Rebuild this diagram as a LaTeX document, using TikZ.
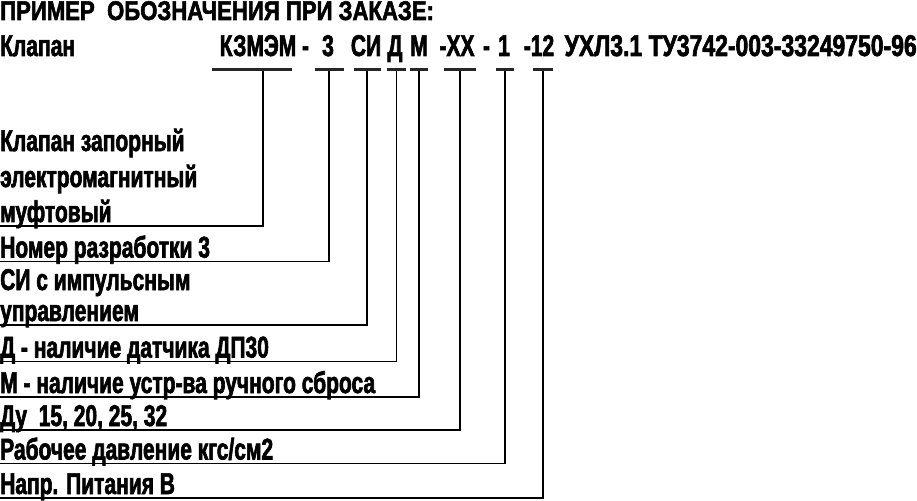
\documentclass[tikz,border=0pt]{standalone}
\usepackage{fontspec}
\setmainfont{Liberation Sans}[FakeStretch=0.7, FakeBold=2]
\newfontfamily\headfont{Liberation Sans}[FakeStretch=0.82, FakeBold=2]
\newfontfamily\specfont{Liberation Sans}[FakeStretch=0.765, FakeBold=2]
\begin{document}
\begin{tikzpicture}[x=1pt, y=-1pt,
    every node/.style={inner sep=0pt, anchor=base west},
    title/.style={font=\headfont\bfseries\fontsize{27}{27}\selectfont},
    code/.style={font=\bfseries\fontsize{30}{30}\selectfont, anchor=base},
    lab/.style={font=\bfseries\fontsize{30}{30}\selectfont},
    bar/.style={fill=black!85, minimum height=3.5pt, anchor=center},
    conn/.style={line width=1.3pt}]
    \useasboundingbox (0,0) rectangle (917,500);

    \node[title] (head) at (0,20) {ПРИМЕР\ \ ОБОЗНАЧЕНИЯ ПРИ ЗАКАЗЕ:};

    % order line
    \node[code, anchor=base west] (valve) at (0,56) {Клапан};
    \node[code] (cKZ) at (258,56) {КЗМЭМ};
    \node[code] (d1) at (305.5,56) {-};
    \node[code] (c3) at (328,56) {3};
    \node[code] (cSI) at (366,56) {СИ};
    \node[code] (cD) at (395,56) {Д};
    \node[code] (cM) at (419,56) {М};
    \node[code] (cXX) at (457,56) {-XX};
    \node[code] (d2) at (486.5,56) {-};
    \node[code] (c1) at (504,56) {1};
    \node[code] (c12) at (539,56) {-12};
    \node[code, font=\specfont\bfseries\fontsize{30}{30}\selectfont, anchor=base east]
        (tu) at (917,56) {УХЛ3.1 ТУ3742-003-33249750-96};

    % underlines
    \node[bar, minimum width=80pt] (bKZ) at (252,69.5) {};
    \node[bar, minimum width=29pt] (b3) at (329,69.5) {};
    \node[bar, minimum width=27pt] (bSI) at (367,69.5) {};
    \node[bar, minimum width=19pt] (bD) at (396.5,69.5) {};
    \node[bar, minimum width=18pt] (bM) at (419,69.5) {};
    \node[bar, minimum width=32pt] (bXX) at (460,69.5) {};
    \node[bar, minimum width=18pt] (b1) at (505,69.5) {};
    \node[bar, minimum width=20pt] (b12) at (543,69.5) {};

    % legend
    \node[lab] (lvalveA) at (0,151) {Клапан запорный};
    \node[lab] (lvalveB) at (0,187) {электромагнитный};
    \node[lab] (lvalveC) at (0,222) {муфтовый};
    \node[lab] (lnum) at (0,257.5) {Номер разработки 3};
    \node[lab] (lsiA) at (0,290) {СИ с импульсным};
    \node[lab] (lsiB) at (0,321) {управлением};
    \node[lab] (ldat) at (0,357.5) {Д - наличие датчика ДП30};
    \node[lab] (lman) at (0,393) {М - наличие устр-ва ручного сброса};
    \node[lab] (ldu) at (0,426) {Ду\ \ 15, 20, 25, 32};
    \node[lab] (lpres) at (0,459.5) {Рабочее давление кгс/см2};
    \node[lab] (lvolt) at (0,494) {Напр. Питания В};

    \draw[conn] ([xshift=11pt]bKZ.south) |- ([yshift=-4pt]lvalveC.base west);
    \draw[conn] (b3.south) |- ([yshift=-4pt]lnum.base west);
    \draw[conn] (bSI.south) |- ([yshift=-4pt]lsiB.base west);
    \draw[conn] (bD.south) |- ([yshift=-4pt]ldat.base west);
    \draw[conn] (bM.south) |- ([yshift=-4pt]lman.base west);
    \draw[conn] (bXX.south) |- ([yshift=-4pt]ldu.base west);
    \draw[conn] (b1.south) |- ([yshift=-4pt]lpres.base west);
    \draw[conn] (b12.south) |- ([yshift=-4pt]lvolt.base west);
\end{tikzpicture}
\end{document}
